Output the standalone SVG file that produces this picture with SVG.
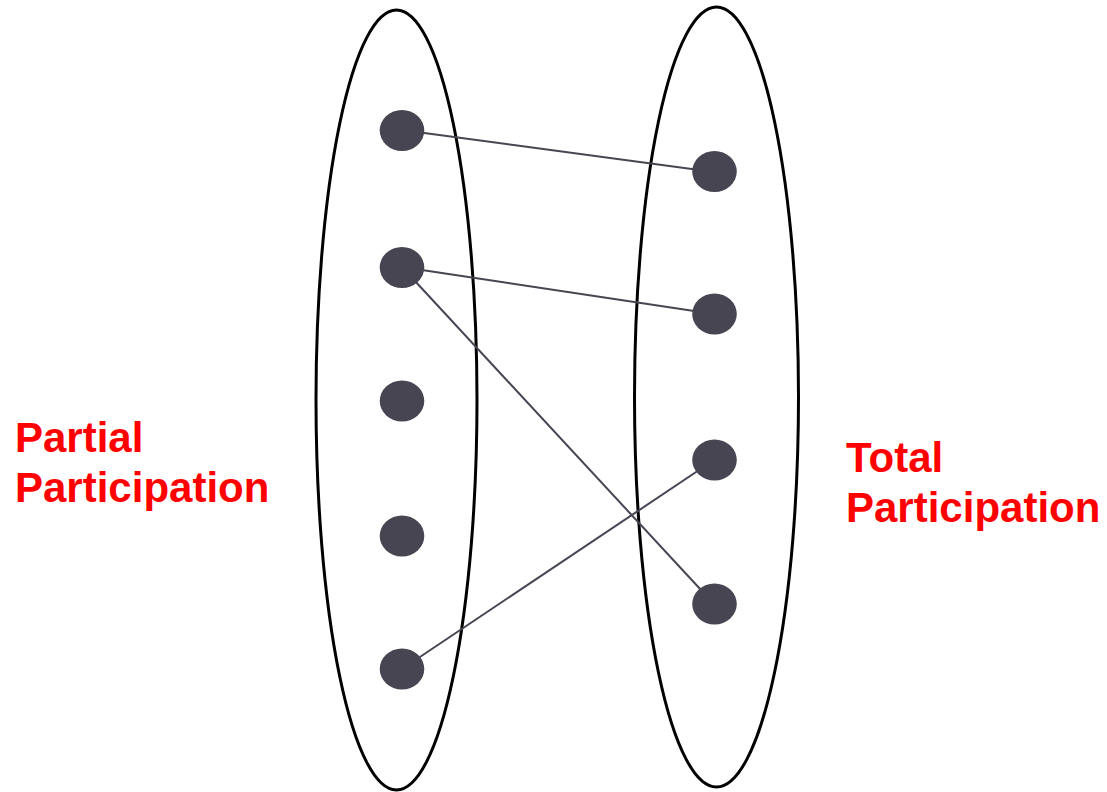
<svg xmlns="http://www.w3.org/2000/svg" width="1107" height="792" viewBox="0 0 1107 792">
<style>
.set{fill:none;stroke:#000;stroke-width:3}
.dot{fill:#474552}
.edge{stroke:#474552;stroke-width:2;fill:none}
.lbl{font-family:"Liberation Sans",Arial,sans-serif;font-weight:bold;font-size:42px;fill:#ff0000}
</style>
<rect width="1107" height="792" fill="#fff"/>
<g id="set-left"><ellipse class="set" cx="396.5" cy="400" rx="80.5" ry="390"/></g>
<g id="set-right"><ellipse class="set" cx="716.5" cy="397" rx="82" ry="390"/></g>
<g id="connectors">
<line class="edge" x1="402" y1="130" x2="714" y2="172"/>
<line class="edge" x1="402" y1="267" x2="714" y2="314"/>
<line class="edge" x1="402" y1="267" x2="714" y2="604"/>
<line class="edge" x1="402" y1="669" x2="714" y2="460"/>
</g>
<g id="l1"><ellipse class="dot" cx="402" cy="130.5" rx="22.3" ry="20.5"/></g>
<g id="l2"><ellipse class="dot" cx="402" cy="267.5" rx="22.3" ry="20.5"/></g>
<g id="l3"><ellipse class="dot" cx="402" cy="401" rx="22.3" ry="20.5"/></g>
<g id="l4"><ellipse class="dot" cx="402" cy="536" rx="22.3" ry="20.5"/></g>
<g id="l5"><ellipse class="dot" cx="402" cy="669" rx="22.3" ry="20.5"/></g>
<g id="r1"><ellipse class="dot" cx="714.5" cy="171.5" rx="22.3" ry="20.5"/></g>
<g id="r2"><ellipse class="dot" cx="714.5" cy="314" rx="22.3" ry="20.5"/></g>
<g id="r3"><ellipse class="dot" cx="714.5" cy="460" rx="22.3" ry="20.5"/></g>
<g id="r4"><ellipse class="dot" cx="714.5" cy="604" rx="22.3" ry="20.5"/></g>
<g id="label-partial"><text class="lbl" x="15" y="452">Partial</text><text class="lbl" x="15" y="502">Participation</text></g>
<g id="label-total"><text class="lbl" x="846" y="472">Total</text><text class="lbl" x="846" y="522">Participation</text></g>
</svg>
